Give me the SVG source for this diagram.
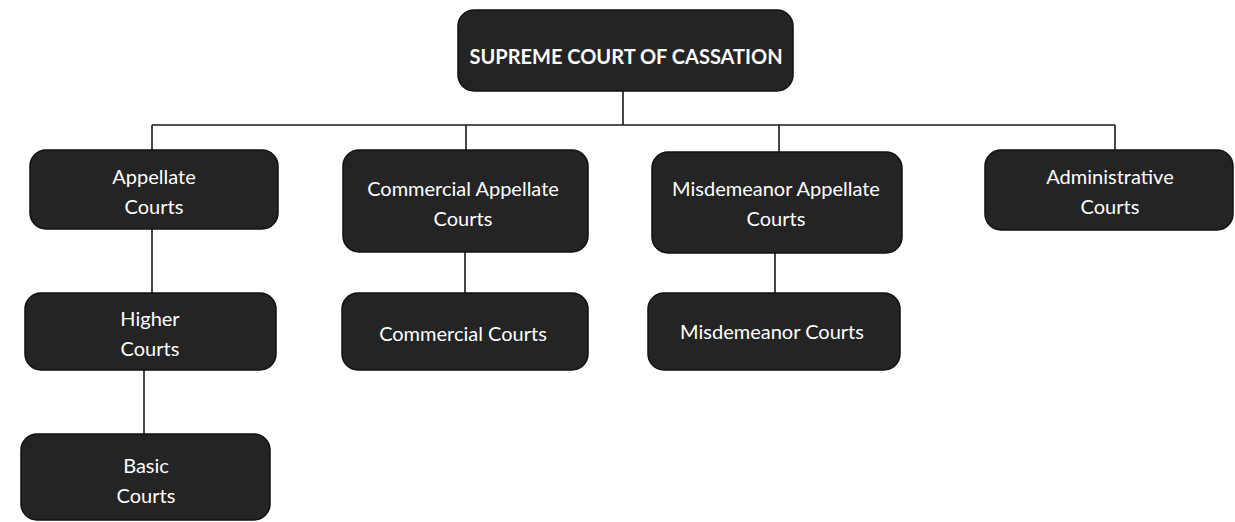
<svg xmlns="http://www.w3.org/2000/svg" width="1235" height="522" viewBox="0 0 1235 522">
<style>
.box{fill:#242424;stroke:#111;stroke-width:1.5}
.t{fill:#fff;font-family:Lato,"Open Sans",sans-serif;font-size:20px;text-anchor:middle}
.tb{fill:#fff;font-family:Lato,"Open Sans",sans-serif;font-size:20px;font-weight:bold;text-anchor:middle}
.c{stroke:#1a1a1a;stroke-width:1.6;fill:none}
</style>
<rect width="1235" height="522" fill="#fff"/>
<g id="connectors" class="c">
<path d="M623 91V125M152 125H1115M152 125V150M466 125V150M779 125V152M1115 125V150"/>
<path d="M152 229V293M144 370V434M465 252V293M775 253V293"/>
</g>
<g id="supreme"><rect class="box" x="458" y="10" width="335" height="81" rx="16"/><text class="tb" x="626" y="64">SUPREME COURT OF CASSATION</text></g>
<g id="appellate"><rect class="box" x="30" y="150" width="248" height="79" rx="16"/><text class="t" x="154" y="184">Appellate</text><text class="t" x="154" y="214">Courts</text></g>
<g id="higher"><rect class="box" x="25" y="293" width="251" height="77" rx="16"/><text class="t" x="150" y="326">Higher</text><text class="t" x="150" y="356">Courts</text></g>
<g id="basic"><rect class="box" x="21" y="434" width="249" height="86" rx="16"/><text class="t" x="146" y="473">Basic</text><text class="t" x="146" y="503">Courts</text></g>
<g id="commercial-appellate"><rect class="box" x="343" y="150" width="245" height="102" rx="16"/><text class="t" x="463" y="196">Commercial Appellate</text><text class="t" x="463" y="226">Courts</text></g>
<g id="commercial"><rect class="box" x="342" y="293" width="246" height="77" rx="16"/><text class="t" x="463" y="341">Commercial Courts</text></g>
<g id="misdemeanor-appellate"><rect class="box" x="652" y="152" width="250" height="101" rx="16"/><text class="t" x="776" y="196">Misdemeanor Appellate</text><text class="t" x="776" y="226">Courts</text></g>
<g id="misdemeanor"><rect class="box" x="648" y="293" width="252" height="77" rx="16"/><text class="t" x="772" y="339">Misdemeanor Courts</text></g>
<g id="administrative"><rect class="box" x="985" y="150" width="248" height="80" rx="16"/><text class="t" x="1110" y="184">Administrative</text><text class="t" x="1110" y="214">Courts</text></g>
</svg>
